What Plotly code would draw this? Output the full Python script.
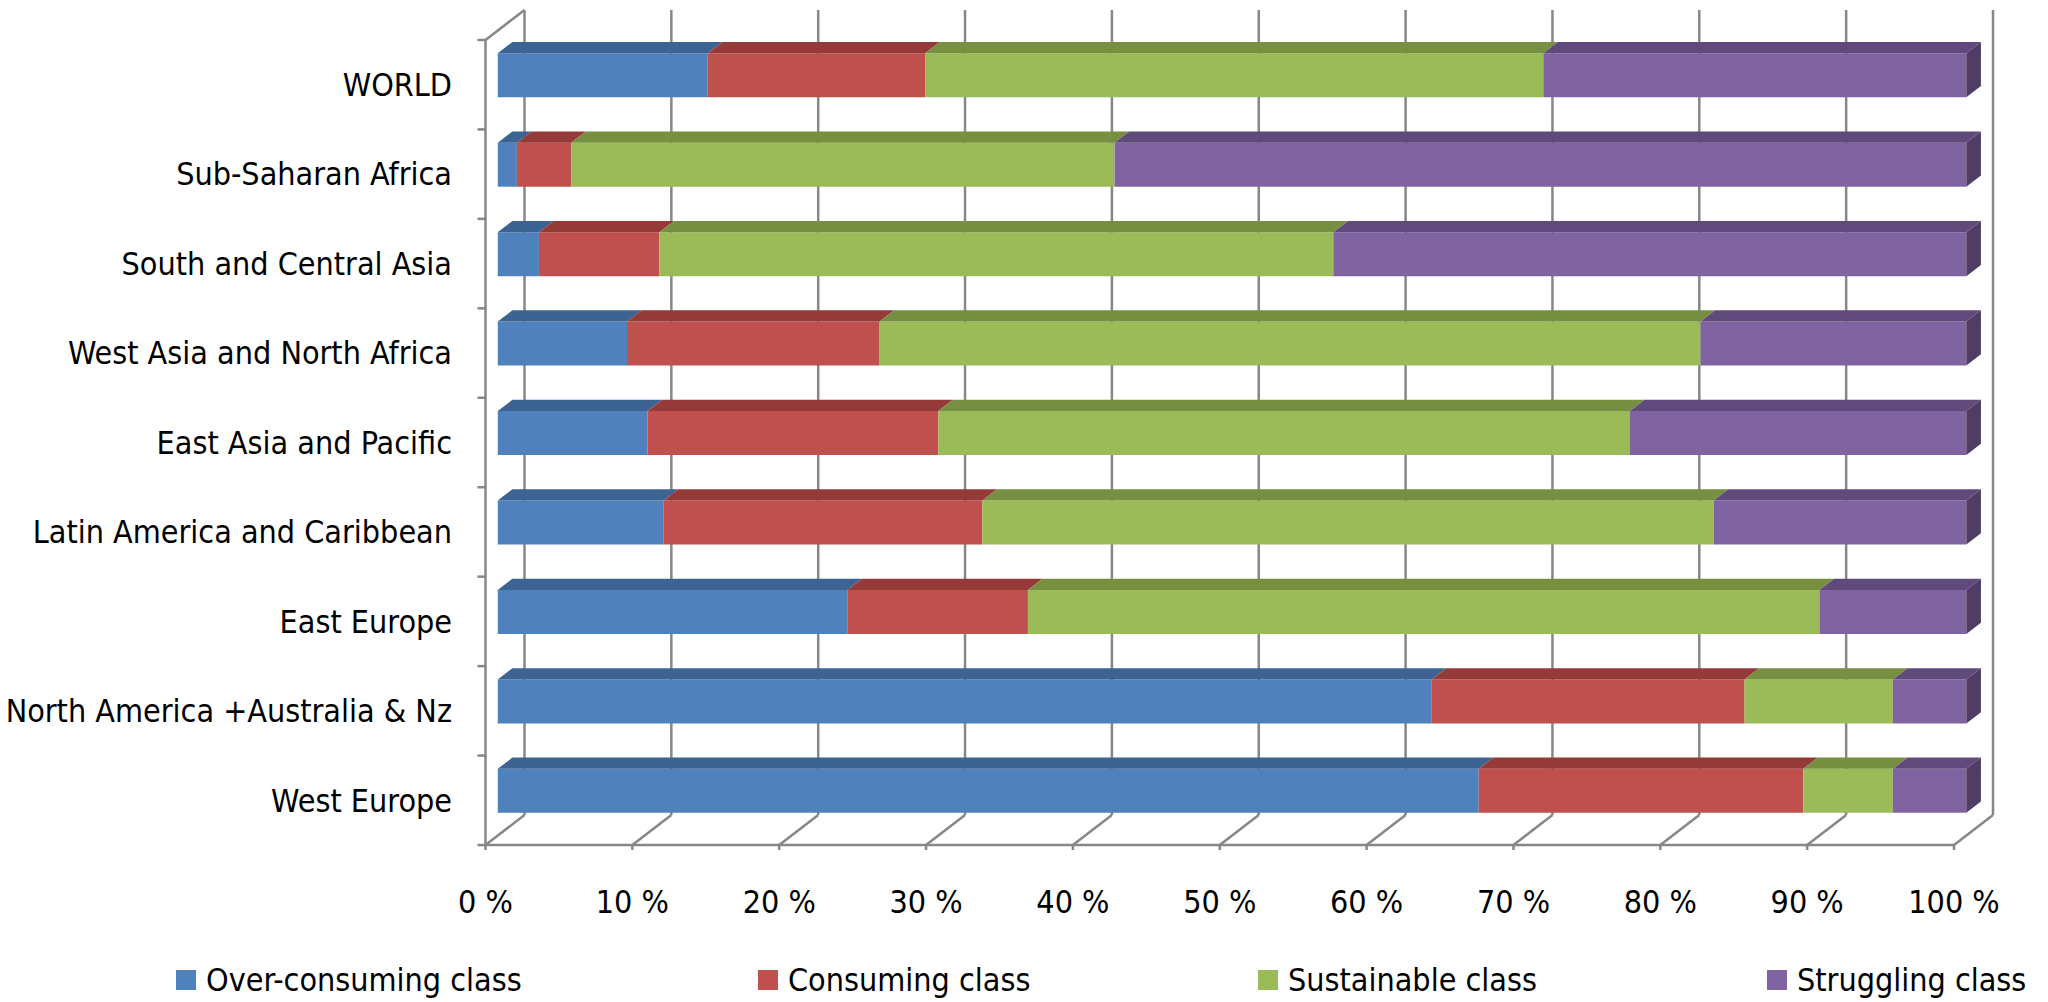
import plotly.graph_objects as go

# ---- data (percent of population by consumption class) ----
regions = [
    "West Europe",
    "North America +Australia & Nz",
    "East Europe",
    "Latin America and Caribbean",
    "East Asia and Pacific",
    "West Asia and North Africa",
    "South and Central Asia",
    "Sub-Saharan Africa",
    "WORLD",
]
over_consuming = [66.8, 63.6, 23.8, 11.3, 10.2, 8.8, 2.8, 1.3, 14.3]
consuming = [22.1, 21.3, 12.3, 21.7, 19.8, 17.2, 8.2, 3.7, 14.8]
sustainable = [6.1, 10.1, 53.9, 49.8, 47.1, 55.9, 45.9, 37.0, 42.1]
struggling = [5.0, 5.0, 10.0, 17.2, 22.9, 18.1, 43.1, 58.0, 28.8]

class_names = ["Over-consuming class", "Consuming class", "Sustainable class", "Struggling class"]
tick_values = list(range(0, 101, 10))
tick_labels = [f"{v} %" for v in tick_values]

# ---- styling ----
FRONT = ["#4F81BD", "#C0504D", "#9BBB59", "#8064A2"]
TOP = ["#3C6392", "#953A38", "#778F40", "#604A7B"]
SIDE = "#4F3D66"
GRID = "#878787"
FONT = "DejaVu Sans Condensed, Liberation Sans, sans-serif"
FS = 32

W, H = 2048, 1002
ML, MR, MT, MB = 470, 48, 5, 152
PL, PR, PT, PB = ML, W - MR, MT, H - MB

# pixel geometry of the front plane of the 3-D box
X0, SX = 485.5, 14.685      # px of 0 %, px per percent
Y0, SY = 800.3, 89.45       # px of first category centre, px per category
x_range = [(PL - X0) / SX, (PR - X0) / SX]
y_range = [(Y0 - PB) / SY, (Y0 - PT) / SY]

# depth vector of the box (back wall offset) in data units
DX, DY = 39 / SX, 30 / SY
BAR_FRONT = 0.315           # fraction of depth where bar front faces sit
BAR_DEPTH = 0.375           # fraction of depth occupied by the bars
BAR_W = 44 / SY             # bar thickness in category units

ys = [i + BAR_FRONT * DY for i in range(len(regions))]
off_x = BAR_FRONT * DX
ddx, ddy = BAR_DEPTH * DX, BAR_DEPTH * DY

series = [over_consuming, consuming, sustainable, struggling]

fig = go.Figure()
shapes = []

# back wall, floor and axis lines
y_lo, y_hi = -0.5, len(regions) - 0.5
line = dict(color=GRID, width=2.5)
for v in tick_values:
    shapes.append(dict(type="line", xref="x", yref="y", layer="below",
                       x0=v + DX, y0=y_lo + DY, x1=v + DX, y1=y_hi + DY, line=line))
    shapes.append(dict(type="line", xref="x", yref="y", layer="below",
                       x0=v, y0=y_lo, x1=v + DX, y1=y_lo + DY, line=line))
    shapes.append(dict(type="line", xref="x", yref="y", layer="below",
                       x0=v, y0=y_lo, x1=v, y1=y_lo - 12 / SY, line=line))
shapes.append(dict(type="line", xref="x", yref="y", layer="below",
                   x0=0, y0=y_lo, x1=100, y1=y_lo, line=line))
shapes.append(dict(type="line", xref="x", yref="y", layer="below",
                   x0=0, y0=y_lo, x1=0, y1=y_hi, line=line))
shapes.append(dict(type="line", xref="x", yref="y", layer="below",
                   x0=0, y0=y_hi, x1=DX, y1=y_hi + DY, line=line))
for k in range(len(regions) + 1):
    shapes.append(dict(type="line", xref="x", yref="y", layer="below",
                       x0=0, y0=k - 0.5, x1=-8 / SX, y1=k - 0.5, line=line))

# stacked bars: front faces as bar traces, top/side faces as polygons
cum = [0.0] * len(regions)
for s, (name, vals) in enumerate(zip(class_names, series)):
    bases = [c + off_x for c in cum]
    fig.add_trace(go.Bar(
        name=name, orientation="h", y=ys, x=vals, base=bases, width=BAR_W,
        marker=dict(color=FRONT[s], line=dict(width=0)), showlegend=False,
    ))
    for i, v in enumerate(vals):
        xa, xb = bases[i], bases[i] + v
        yt = ys[i] + BAR_W / 2
        shapes.append(dict(
            type="path", xref="x", yref="y", layer="above", line=dict(width=0),
            fillcolor=TOP[s],
            path=f"M {xa},{yt} L {xb},{yt} L {xb + ddx},{yt + ddy} L {xa + ddx},{yt + ddy} Z",
        ))
        cum[i] += v

# right-hand side faces
for i in range(len(regions)):
    xe = cum[i] + off_x
    yt, yb = ys[i] + BAR_W / 2, ys[i] - BAR_W / 2
    shapes.append(dict(
        type="path", xref="x", yref="y", layer="above", line=dict(width=0),
        fillcolor=SIDE,
        path=f"M {xe},{yb} L {xe},{yt} L {xe + ddx},{yt + ddy} L {xe + ddx},{yb + ddy} Z",
    ))

# legend along the bottom
legend_x = [176, 758, 1258, 1767]
legend_y = 980
annotations = []
pw, ph = PR - PL, PB - PT
for s, name in enumerate(class_names):
    x0 = legend_x[s]
    shapes.append(dict(type="rect", xref="paper", yref="paper", line=dict(width=0),
                       fillcolor=FRONT[s],
                       x0=(x0 - PL) / pw, x1=(x0 + 20 - PL) / pw,
                       y0=(PB - (legend_y + 10)) / ph, y1=(PB - (legend_y - 10)) / ph))
    annotations.append(dict(xref="paper", yref="paper", showarrow=False,
                            x=(x0 + 28 - PL) / pw, y=(PB - legend_y) / ph,
                            xanchor="left", yanchor="middle", text=name,
                            font=dict(family=FONT, size=FS, color="black")))

fig.update_layout(
    width=W, height=H,
    margin=dict(l=ML, r=MR, t=MT, b=MB, pad=0),
    paper_bgcolor="white", plot_bgcolor="white",
    barmode="overlay",
    shapes=shapes, annotations=annotations,
    font=dict(family=FONT, size=FS, color="black"),
    xaxis=dict(range=x_range, tickvals=tick_values, ticktext=tick_labels,
               showgrid=False, zeroline=False, showline=False, ticks="",
               ticklabelstandoff=30, automargin=False, fixedrange=True),
    yaxis=dict(range=y_range, tickvals=list(range(len(regions))), ticktext=regions,
               showgrid=False, zeroline=False, showline=False, ticks="",
               ticklabelstandoff=17, automargin=False, fixedrange=True),
    hovermode=False,
)

fig.write_html("out.html")
